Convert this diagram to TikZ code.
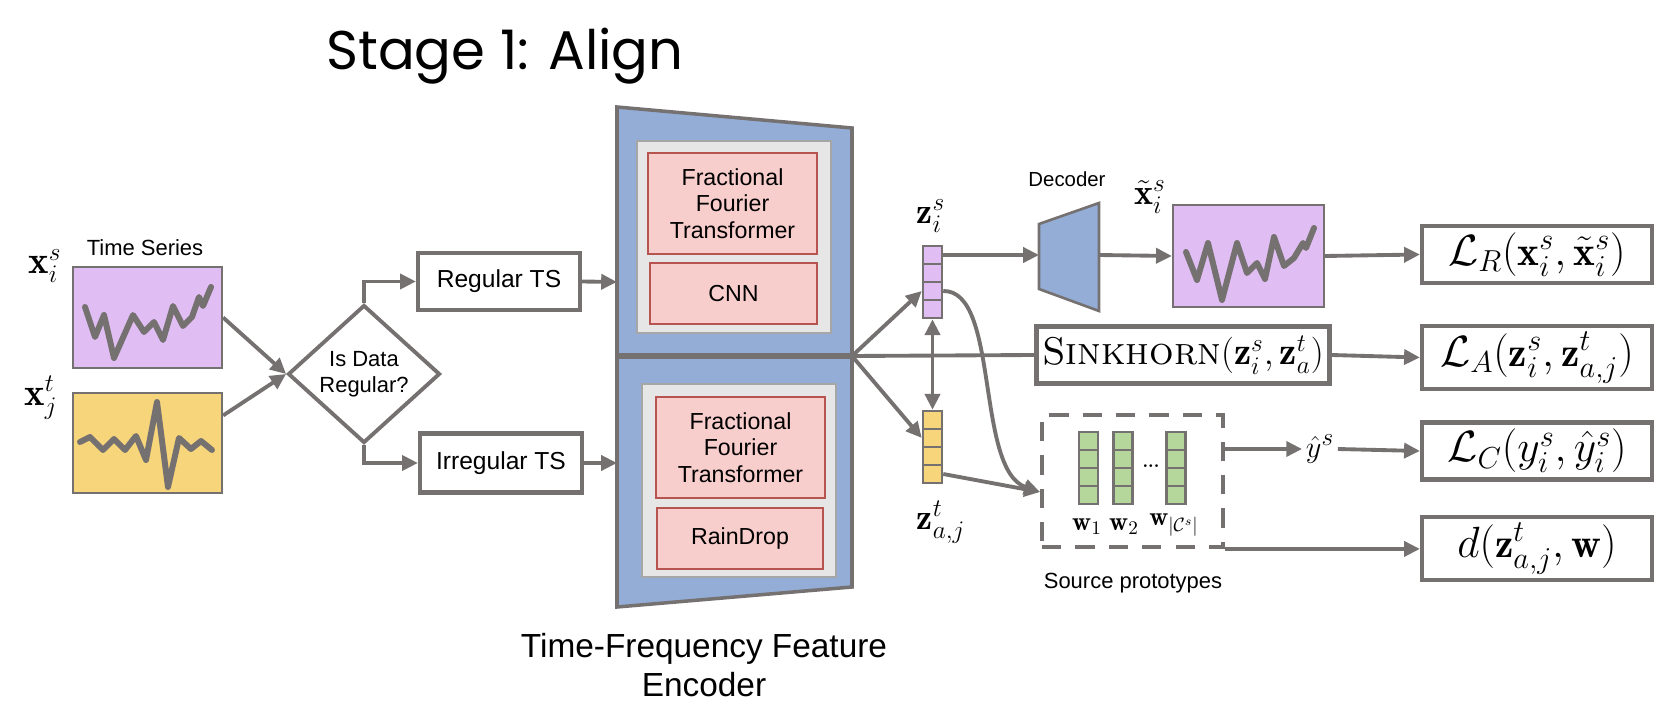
\documentclass[tikz,border=0pt]{standalone}
\usepackage{amsmath,amssymb}
\usepackage{fontspec}
\setsansfont{Liberation Sans}
\newfontfamily\titlefont{Poppins}
\usepackage{tikz}
\usetikzlibrary{arrows.meta,positioning,calc,shapes.geometric}

\definecolor{lineg}{HTML}{767171}
\definecolor{srcpurple}{HTML}{E0BEF3}
\definecolor{tgtyellow}{HTML}{F7D57A}
\definecolor{encblue}{HTML}{93ADD6}
\definecolor{innergray}{HTML}{E6E6E6}
\definecolor{blockred}{HTML}{F8CECC}
\definecolor{blockredline}{HTML}{B85450}
\definecolor{protogreen}{HTML}{B5D79B}

\tikzset{
  sanslbl/.style={font=\sffamily\fontsize{12.5}{15}\selectfont},
  mathlbl/.style={font=\fontsize{20.5}{24}\selectfont},
  box/.style={draw=lineg, line width=2.4pt, fill=white,
              font=\sffamily\fontsize{14}{17}\selectfont},
  lossbox/.style={draw=lineg, line width=2.4pt, fill=white,
                  minimum width=4.6cm, minimum height=1.14cm,
                  font=\fontsize{23.5}{27}\selectfont},
  tsbox/.style={draw=lineg, line width=1.3pt,
                minimum width=2.98cm, minimum height=2.02cm},
  wave/.style={lineg, line width=3.4pt, line join=round, line cap=round},
  graybox/.style={draw=gray!70, line width=0.9pt, fill=innergray,
                  minimum width=3.88cm, minimum height=3.86cm},
  redbox/.style={draw=blockredline, line width=0.9pt, fill=blockred,
                 align=center, font=\sffamily\fontsize{13.2}{15.2}\selectfont},
  cell/.style={draw=lineg, line width=1.4pt, minimum width=0.38cm,
               minimum height=0.36cm, inner sep=0pt},
  conn/.style={draw=lineg, line width=2.2pt},
  arr/.style={conn, -{Triangle[length=9pt,width=8.5pt]}},
  arrboth/.style={conn, {Triangle[length=9pt,width=8.5pt]}-{Triangle[length=9pt,width=8.5pt]}},
}

\begin{document}
\begin{tikzpicture}[x=0.02cm, y=-0.02cm]
  \useasboundingbox (0,0) rectangle (1658,716);

  % Title
  \node[font=\titlefont\fontsize{31}{37}\selectfont] (title) at (505,56) {Stage 1: Align};

  % Input time series
  \node[tsbox, fill=srcpurple] (srcts) at (147.5,317.5) {};
  \node[tsbox, fill=tgtyellow, minimum height=2.0cm] (tgtts) at (147.5,443) {};
  \draw[wave] (85,307) -- (95,337) -- (104,315) -- (114,358) -- (133,315) -- (144,332)
    -- (154,322) -- (163,340) -- (173,306) -- (183,326) -- (192,317) -- (199,297)
    -- (203,306) -- (211,287);
  \draw[wave] (80,442) -- (90,437) -- (103,450) -- (114,439) -- (125,450) -- (136,436)
    -- (146,460) -- (157,402) -- (168,487) -- (179,438) -- (191,449) -- (201,441)
    -- (212,450);
  \node[sanslbl] (tslbl) at (145,248) {Time Series};
  \node[font=\fontsize{22}{25}\selectfont] (xs) at (45,266) {$\mathbf{x}_i^s$};
  \node[font=\fontsize{22}{25}\selectfont] (xt) at (41,398) {$\mathbf{x}_j^t$};

  % Regularity check
  \node[diamond, draw=lineg, line width=2.2pt, minimum width=3.04cm,
        minimum height=2.76cm, inner sep=0pt, align=center, sanslbl] (isreg)
        at (364,374) {Is Data\\Regular?};
  \node[box, minimum width=3.24cm, minimum height=1.14cm] (regts) at (499,281.5) {Regular TS};
  \node[box, minimum width=3.24cm, minimum height=1.18cm] (irrts) at (501,463) {Irregular TS};

  \draw[arr] (srcts.east) -- (isreg.west);
  \draw[arr] (tgtts.20) -- (isreg.west);
  \draw[arr] (isreg.north) |- (regts.west);
  \draw[arr] (isreg.south) |- (irrts.west);

  % Encoder
  \filldraw[fill=encblue, draw=lineg, line width=2pt]
    (617,107) -- (852,128) -- (852,356) -- (617,356) -- cycle;
  \filldraw[fill=encblue, draw=lineg, line width=2pt]
    (617,356) -- (852,356) -- (852,587) -- (617,607) -- cycle;
  \draw[lineg, line width=3pt] (617,356) -- (852,356);
  \coordinate (encin1) at (617,282);
  \coordinate (encin2) at (617,463);
  \coordinate (encout) at (852,356);

  \node[graybox, minimum height=3.84cm] (upgray) at (734,237) {};
  \node[redbox, minimum width=3.38cm, minimum height=2.02cm] (fftup) at (732.5,203.5)
    {Fractional\\Fourier\\Transformer};
  \node[redbox, minimum width=3.34cm, minimum height=1.22cm] (cnn) at (733.5,293.5) {CNN};
  \node[graybox] (lowgray) at (739,480.5) {};
  \node[redbox, minimum width=3.38cm, minimum height=2.02cm] (fftlow) at (740.5,447.5)
    {Fractional\\Fourier\\Transformer};
  \node[redbox, minimum width=3.32cm, minimum height=1.22cm] (raindrop) at (740,538.5) {RainDrop};
  \node[align=center, font=\sffamily\fontsize{19}{22.5}\selectfont] (enclbl) at (704,665)
    {Time-Frequency Feature\\Encoder};

  \draw[arr] (regts.east) -- (encin1);
  \draw[arr] (irrts.east) -- (encin2);

  % Latent vectors
  \foreach \k in {0,...,3} {
    \node[cell, fill=srcpurple] (zs\k) at (932.5,255+18*\k) {};
    \node[cell, fill=tgtyellow] (zt\k) at (932.5,420+18*\k) {};
  }
  \node[mathlbl] (zslbl) at (931,216) {$\mathbf{z}_i^s$};
  \node[mathlbl] (ztlbl) at (941,522) {$\mathbf{z}_{a,j}^t$};

  % Decoder and reconstruction
  \filldraw[fill=encblue, draw=lineg, line width=1.5pt]
    (1039,224) -- (1099,203) -- (1099,311) -- (1039,289) -- cycle;
  \coordinate (decin) at (1039,255);
  \coordinate (decout) at (1099,255);
  \node[sanslbl, font=\sffamily\fontsize{11.6}{14}\selectfont] (declbl) at (1067,179) {Decoder};
  \node[tsbox, fill=srcpurple, minimum width=3.02cm, minimum height=2.04cm] (recon) at (1248.5,256) {};
  \draw[wave] (1186,252) -- (1197,280) -- (1208,243) -- (1222,300) -- (1237,243)
    -- (1247,273) -- (1257,263) -- (1265,279) -- (1274,237) -- (1284,266)
    -- (1294,258) -- (1303,243) -- (1306,248) -- (1314,228);
  \node[mathlbl] (reclbl) at (1150,197) {$\tilde{\mathbf{x}}_i^s$};

  % Alignment
  \node[box, minimum width=5.68cm, minimum height=1.14cm, font=\fontsize{22}{26}\selectfont]
    (sink) at (1183,355) {$\textsc{Sinkhorn}(\mathbf{z}_i^s,\mathbf{z}_a^t)$};

  % Source prototypes
  \node[draw=lineg, line width=2.2pt, dash pattern=on 11pt off 8pt,
        minimum width=3.62cm, minimum height=2.64cm] (proto) at (1132.5,481) {};
  \foreach \c/\px in {1/1088.5, 2/1123, 3/1176} {
    \foreach \k in {0,...,3}
      \node[cell, fill=protogreen] (w\c\k) at (\px,441+18*\k) {};
  }
  \node[font=\bfseries] (dots) at (1151,466) {...};
  \node[font=\fontsize{15}{18}\selectfont] (w1lbl) at (1087,527) {$\mathbf{w}_1$};
  \node[font=\fontsize{15}{18}\selectfont] (w2lbl) at (1124,527) {$\mathbf{w}_2$};
  \node[font=\fontsize{15}{18}\selectfont] (w3lbl) at (1174,525) {$\mathbf{w}_{|\mathcal{C}^s|}$};
  \node[sanslbl] (protolbl) at (1133,583) {Source prototypes};
  \coordinate (protoin) at (1040,492);

  % Losses
  \node[lossbox] (lr) at (1537,254.5) {$\mathcal{L}_R(\mathbf{x}_i^s,\tilde{\mathbf{x}}_i^s)$};
  \node[lossbox] (la) at (1537,357.5) {$\mathcal{L}_A(\mathbf{z}_i^s,\mathbf{z}_{a,j}^t)$};
  \node[lossbox] (lc) at (1537,451) {$\mathcal{L}_C(y_i^s,\hat{y}_i^s)$};
  \node[lossbox] (ld) at (1537,548.5) {$d(\mathbf{z}_{a,j}^t,\mathbf{w})$};
  \node[font=\fontsize{19}{22}\selectfont, inner sep=2pt] (yhat) at (1320,449) {$\hat{y}^s$};

  % Connectors
  \draw[arr] (encout) -- (zs2.west);
  \draw[arr] (encout) -- (zt1.west);
  \draw[conn] (encout) -- (sink.west);
  \draw[arrboth] (zs3.south) -- (zt0.north);
  \draw[arr] (zs0.east) -- (decin);
  \draw[arr] (decout) -- (recon.west);
  \draw[arr] (zs2.east) .. controls (1000,290) and (975,470) .. (protoin);
  \draw[arr] (zt3.east) -- (protoin);
  \draw[arr] (recon.east) -- (lr.west);
  \draw[arr] (sink.east) -- (la.west);
  \draw[arr] (proto.east |- yhat) -- (yhat.west);
  \draw[arr] (yhat.east) -- (lc.west);
  \draw[arr] (proto.south east) -- (ld.west |- proto.south east);
\end{tikzpicture}
\end{document}
